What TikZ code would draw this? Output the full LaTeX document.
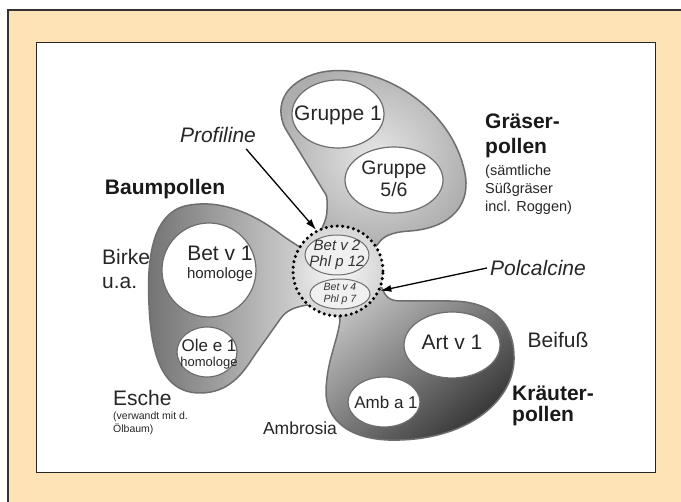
\documentclass[tikz,border=0pt]{standalone}
\usepackage{fontspec}
\setmainfont{Liberation Sans}
\usetikzlibrary{arrows.meta,positioning}

\definecolor{rahmen}{HTML}{FDE3B6}
\definecolor{randgrau}{HTML}{6E6E6E}

\tikzset{
  feld/.style={fill=white, draw=randgrau, line width=1.2pt},
  kleinfeld/.style={fill=black!6, draw=randgrau, line width=1pt},
  lappen/.style={draw=randgrau, line width=1.5pt},
  gross/.style={font=\fontsize{21}{24}\selectfont, text=black!85, inner sep=0pt},
  fett/.style={font=\fontsize{21}{23}\selectfont\bfseries, text=black!90, inner sep=0pt, align=left},
  kursiv/.style={font=\fontsize{21}{24}\selectfont\itshape, text=black!85, inner sep=0pt},
  pfeil/.style={-{Latex[length=11pt,width=7pt]}, line width=1.3pt},
}

\begin{document}
\begin{tikzpicture}[x=1pt, y=-1pt]
    \useasboundingbox (0,0) rectangle (681,502);
    % Rahmen
    \draw[fill=rahmen, draw=black!80, line width=1.5pt] (8,10) rectangle (690,512);
    \draw[fill=white, draw=black!85, line width=1pt] (36,43) rectangle (655,473);

    % Gräserpollen
    \path[lappen, inner color=black!10, outer color=black!32]
        (318,242) .. controls (320,228) and (327,222) .. (327,210)
        -- (327,200) .. controls (327,195) and (325,193) .. (323,190)
        -- (285,128) .. controls (274,105) and (285,82) .. (318,73)
        .. controls (370,60) and (445,100) .. (463,165)
        .. controls (475,205) and (450,228) .. (410,231)
        .. controls (392,232) and (383,236) .. (378,244) -- (372,250) -- cycle;
    % Baumpollen
    \path[lappen, left color=black!55, right color=black!15]
        (306,248) -- (300,247) .. controls (293,243) and (289,240) .. (283,236)
        .. controls (255,214) and (220,198) .. (185,206)
        .. controls (150,215) and (147,265) .. (149,305)
        .. controls (151,350) and (160,393) .. (200,393)
        .. controls (228,393) and (242,375) .. (254,356)
        -- (281,318) .. controls (287,310) and (295,306) .. (316,304) -- cycle;
    % Kräuterpollen
    \path[lappen, top color=black!25, bottom color=black!80, shading angle=40]
        (374,285) -- (382,288) .. controls (386,298) and (390,301) .. (402,301)
        -- (450,301) .. controls (500,301) and (515,330) .. (514,360)
        .. controls (513,400) and (470,438) .. (400,440)
        .. controls (350,442) and (325,420) .. (326,390)
        .. controls (327,360) and (338,340) .. (340,320) -- (338,312) -- cycle;

    % Zentrum mit Profilinen und Polcalcinen
    \node[circle, minimum size=90pt, inner color=black!3, outer color=black!16,
          draw=black, dash pattern=on 0pt off 5.5pt, line cap=round, line width=3.4pt]
          (zentrum) at (338,271) {};
    \draw[kleinfeld] (337,255) ellipse [x radius=32, y radius=20];
    \draw[kleinfeld] (340,294) ellipse [x radius=30, y radius=15];
    \node[font=\fontsize{15}{16}\selectfont\itshape, text=black!80, align=center, inner sep=0pt]
        (profilin) at (337,255) {Bet v 2\\Phl p 12};
    \node[font=\fontsize{10.5}{12}\selectfont\itshape, text=black!80, align=center, inner sep=0pt]
        (polcalcin) at (340,294) {Bet v 4\\Phl p 7};

    % Allergene
    \draw[feld] (338,114) ellipse [x radius=46, y radius=34];
    \draw[feld] (394,180) ellipse [x radius=49, y radius=33];
    \draw[feld] (209,270) ellipse [x radius=47, y radius=47];
    \draw[feld] (207,352) ellipse [x radius=30, y radius=25];
    \draw[feld] (452,345) ellipse [x radius=48, y radius=33];
    \draw[feld] (384,402) ellipse [x radius=36, y radius=25];

    \node[gross] (gruppeA) at (338,115) {Gruppe 1};
    \node[gross, font=\fontsize{19.5}{22}\selectfont, align=center] (gruppeB) at (394,179) {Gruppe\\5/6};
    \node[gross] (betA) at (220,253) {Bet v 1};
    \node[gross, font=\fontsize{15}{17}\selectfont, below=7pt of betA] (betAhom) {homologe};
    \node[gross, font=\fontsize{17}{19}\selectfont] (oleA) at (209,345) {Ole e 1};
    \node[gross, font=\fontsize{13}{15}\selectfont, below=5pt of oleA] (oleAhom) {homologe};
    \node[gross] (artA) at (452,342) {Art v 1};
    \node[gross, font=\fontsize{17}{19}\selectfont] (ambA) at (386,402) {Amb a 1};

    % Beschriftung aussen
    \node[kursiv] (profiline) at (218,135) {Profiline};
    \node[kursiv] (polcalcine) at (538,268) {Polcalcine};
    \node[fett] (baum) at (165,189) {Baumpollen};
    \node[gross, align=left, anchor=north west] (birke) at (102,249) {Birke\\u.a.};
    \node[gross, anchor=west] (esche) at (113,398) {Esche};
    \node[gross, font=\fontsize{10.5}{13}\selectfont, align=left,
          below=6pt of esche.south west, anchor=north west] (oelbaum) {(verwandt mit d.\\Ölbaum)};
    \node[gross, font=\fontsize{17.5}{20}\selectfont] (ambrosia) at (300,428) {Ambrosia};
    \node[gross] (beifuss) at (558,340) {Beifuß};
    \node[fett, font=\fontsize{21}{21}\selectfont\bfseries, anchor=north west] (kraeuter) at (512,386) {Kräuter-\\pollen};
    \node[fett, font=\fontsize{21}{25}\selectfont\bfseries, anchor=north west] (graeser) at (485,114) {Gräser-\\pollen};
    \node[gross, font=\fontsize{14.5}{18}\selectfont, align=left,
          below=6pt of graeser.south west, anchor=north west] (suessgras) {(sämtliche\\Süßgräser\\incl. Roggen)};

    % Pfeile
    \draw[pfeil] ([xshift=-10pt,yshift=-6pt]profiline.south east) -- (zentrum.118);
    \draw[pfeil] ([xshift=-3pt]polcalcine.west) -- (zentrum.-25);
\end{tikzpicture}
\end{document}
